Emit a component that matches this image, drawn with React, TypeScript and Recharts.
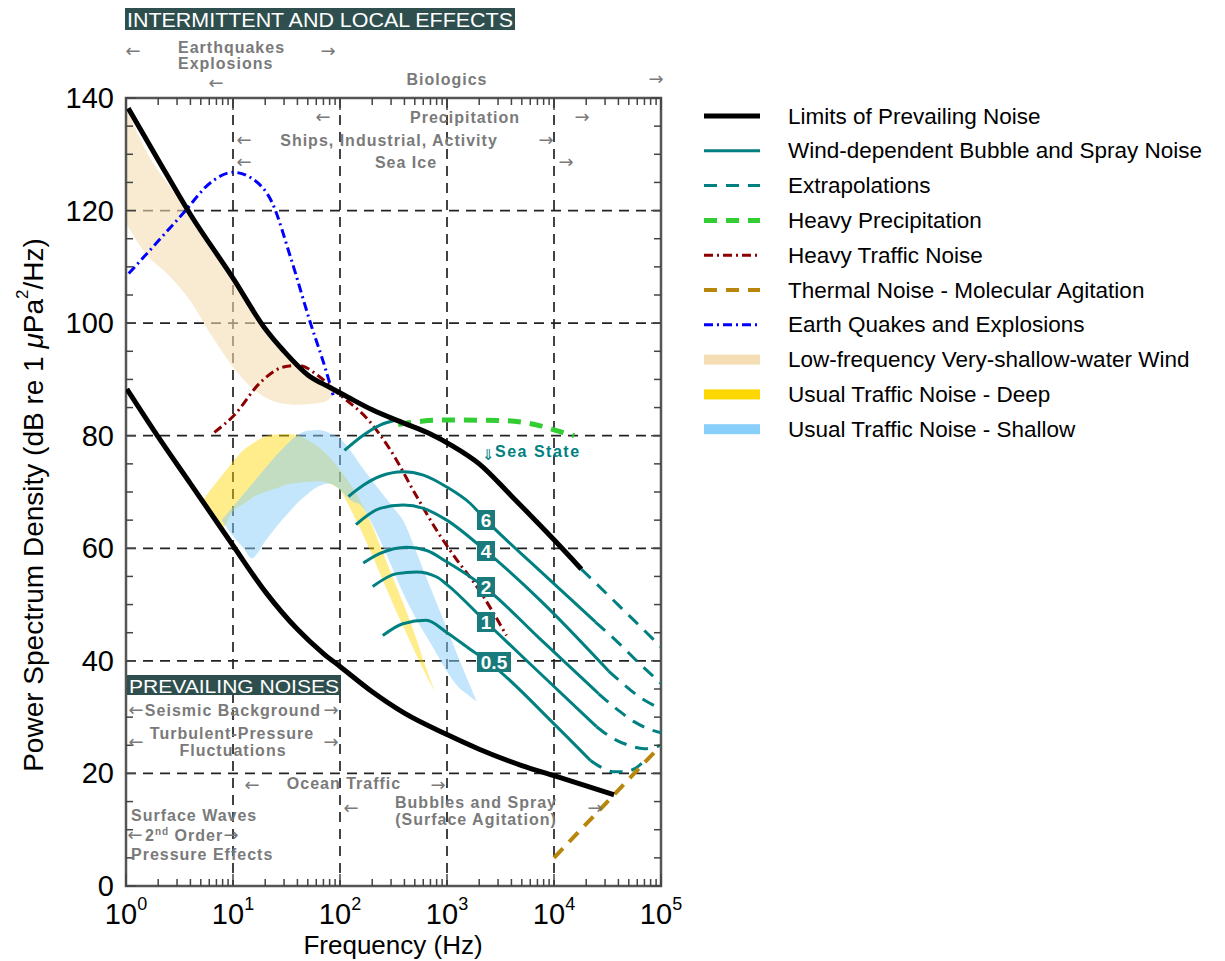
import React from 'react';
import {
  ComposedChart,
  Line,
  Area,
  XAxis,
  YAxis,
  CartesianGrid,
  ReferenceArea,
} from 'recharts';

// [frequency Hz, level dB re 1 uPa^2/Hz]
type Pt = [number, number];
// [frequency Hz, low dB, high dB]
type Band = [number, number, number];

const upperLimit: Pt[] = [
  [1.05, 138.2], [2, 129], [4, 119.3], [10, 108], [20, 99], [30, 95], [50, 90.8], [80, 88.6],
  [120, 86.8], [200, 84.6], [400, 82.2], [700, 80.3], [1100, 78.3], [2000, 75], [4000, 69.3],
  [10000, 61.5], [18000, 56.3],
];
const upperLimitExt: Pt[] = [[18000, 56.3], [40000, 49.9], [100000, 42.5]];

const lowerLimit: Pt[] = [
  [1.02, 88.3], [2, 79.8], [4, 71.5], [10, 60.5], [20, 52.3], [40, 45.6], [70, 41.3], [100, 39.0],
  [200, 34.5], [400, 30.7], [1000, 26.9], [2000, 24.3], [5000, 21.4], [10000, 19.6], [20000, 17.8],
  [36400, 16.2],
];

// wind-dependent bubble and spray noise, by sea state
const seaHigh: Pt[] = [[110, 77.4], [165, 80.1], [237, 81.9], [339, 82.8]];
const sea6: Pt[] = [
  [120, 69.2], [165, 71.2], [237, 72.8], [391, 73.6], [601, 73.0], [993, 70.9], [1641, 68.0],
  [2312, 65.0], [7400, 56.0], [24400, 46.9],
];
const sea6Ext: Pt[] = [[24400, 46.9], [40000, 43.2], [60000, 39.9], [100000, 36.0]];
const sea4: Pt[] = [
  [141, 64.2], [237, 67.1], [389, 67.7], [603, 67.1], [993, 65.0], [2312, 59.5], [7400, 50.8],
  [32400, 38.2],
];
const sea4Ext: Pt[] = [[32400, 38.2], [45000, 35.8], [65000, 33.4], [100000, 31.5]];
const sea2: Pt[] = [
  [165, 57.4], [237, 59.1], [421, 60.2], [646, 59.6], [993, 57.6], [2312, 52.9], [7400, 43.9],
  [26000, 34.2],
];
const sea2Ext: Pt[] = [[26000, 34.2], [40000, 31.2], [56000, 29.2], [79000, 27.8], [100000, 27.2]];
const sea1: Pt[] = [
  [202, 53.2], [339, 55.5], [521, 55.8], [802, 54.9], [993, 53.6], [2312, 46.9], [7400, 37.8],
  [25000, 28.3],
];
const sea1Ext: Pt[] = [[25000, 28.3], [35000, 26.3], [50000, 25.0], [70000, 24.4], [100000, 25.0]];
const sea05: Pt[] = [
  [251, 44.5], [387, 46.6], [640, 47.2], [986, 45.1], [1631, 42.1], [2512, 39.6], [10000, 28.8],
  [21900, 22.3],
];
const sea05Ext: Pt[] = [
  [21900, 22.3], [28200, 21.0], [35500, 20.3], [44700, 20.3], [56200, 20.8], [66000, 21.8],
];

const precipitation: Pt[] = [
  [350, 82.0], [600, 82.6], [1000, 82.8], [3200, 82.7], [7300, 81.8], [11000, 80.8], [15400, 80.0],
];
const heavyTraffic: Pt[] = [
  [6.7, 80.6], [10.2, 83.6], [18.1, 89.5], [29.6, 92.2], [41.1, 92.5], [62.1, 90.7], [93.5, 87.7],
  [190, 82.5], [295, 77.5], [521, 69.2], [800, 63.2], [1230, 58.0], [1900, 53.2], [3600, 44.5],
];
const thermal: Pt[] = [[10000, 5], [100000, 25]];
const quakes: Pt[] = [
  [1.06, 108.8], [1.96, 114.4], [3.49, 119.7], [6.2, 125.0], [10, 126.8], [15.3, 125.6],
  [23.1, 121.5], [34.9, 111.4], [52.6, 100.2], [73.1, 91.9], [86.3, 87.2],
];

const shallowWind: Band[] = [
  [1, 117.8, 138.5], [1.58, 112.0, 130.2], [2.51, 108.5, 124.5], [3.98, 104.0, 119.4],
  [6.31, 97.8, 113.5], [10, 92.2, 108], [15.8, 88.1, 101.8], [25.1, 86.0, 96.9],
  [39.8, 85.5, 92.8], [63.1, 85.8, 89.8], [79.4, 86.5, 88.9], [93.3, 88.0, 88.0],
];
const trafficDeep: Band[] = [
  [5.28, 68.6, 68.6], [6.31, 66.3, 70.6], [7.94, 63.6, 73.0], [10, 66.6, 75.4], [12.6, 67.9, 77.5],
  [15.8, 69.2, 78.8], [20, 70.0, 79.9], [25.1, 70.6, 80.2], [31.6, 71.3, 80.3], [39.8, 71.6, 80.1],
  [50.1, 71.8, 79.2], [63.1, 71.9, 78.0], [79.4, 71.5, 76.2], [100, 70.3, 73.9], [126, 66.9, 71.3],
  [158, 63.1, 68.1], [200, 58.7, 64.0], [251, 54.3, 59.3], [316, 49.9, 54.5], [398, 45.7, 49.8],
  [501, 41.6, 44.7], [631, 37.6, 39.0], [773, 34.5, 34.5],
];
const trafficShallow: Band[] = [
  [7.83, 65.0, 65.0], [10, 62.2, 67.4], [12.6, 60.0, 69.7], [14.9, 58.2, 71.3], [20, 61.3, 74.2],
  [25.1, 63.7, 76.4], [31.6, 65.9, 78.4], [39.8, 68.0, 80.1], [50.1, 69.7, 80.9], [63.1, 71.0, 81.0],
  [79.4, 71.5, 80.5], [100, 70.4, 79.5], [126, 68.5, 77.3], [158, 67.6, 74.6], [200, 64.3, 72.0],
  [251, 60.4, 69.6], [316, 56.0, 67.2], [398, 51.6, 64.6], [501, 47.9, 60.0], [631, 44.6, 55.1],
  [794, 41.4, 50.4], [1000, 38.1, 45.7], [1259, 35.5, 40.9], [1585, 33.9, 36.3], [1892, 32.8, 32.8],
];

const decades = [1, 10, 100, 1000, 10000, 100000];
const minorSteps = [2, 3, 4, 5, 6, 7, 8, 9];
const levelTicks = [0, 20, 40, 60, 80, 100, 120, 140];
const levelMinor = [5, 10, 15];
const seaStateLabels = ['6', '4', '2', '1', '0.5'];

const freqTicks = [
  ...decades,
  ...decades.slice(0, -1).flatMap((d) => minorSteps.map((m) => d * m)),
].sort((a, b) => a - b);
const allLevelTicks = [
  ...levelTicks,
  ...levelTicks.slice(0, -1).flatMap((t) => levelMinor.map((s) => t + s)),
].sort((a, b) => a - b);

const pts = (rows: Pt[]) => rows.map(([f, v]) => ({ f, v }));
const band = (rows: Band[]) => rows.map(([f, lo, hi]) => ({ f, range: [lo, hi] }));

const FONT = "'Liberation Sans', Arial, 'DejaVu Sans', sans-serif";
const ARROW_FONT = "'DejaVu Sans', sans-serif";
const GREY = '#7a7a7a';
const TEAL = '#008080';
const GREEN = '#32cd32';
const DARKRED = '#8b0000';
const GOLDENROD = '#b8860b';
const BLUE = '#0000ff';
const WHEAT = '#f5deb3';
const GOLD = '#ffd700';
const SKY = '#87cefa';
const DASH = '13 9';
const DASHDOT = '9 4 2 4';

const W = 1209;
const H = 953;
const PLOT = { left: 118, top: 90, width: 535, height: 788 };
const Y_AXIS_W = 60;
const X_AXIS_H = 60;

type LegendItem = { label: string; color: string; width?: number; dash?: string; band?: boolean };
const legendItems: LegendItem[] = [
  { label: 'Limits of Prevailing Noise', color: '#000', width: 5 },
  { label: 'Wind-dependent Bubble and Spray Noise', color: TEAL, width: 3 },
  { label: 'Extrapolations', color: TEAL, width: 3, dash: DASH },
  { label: 'Heavy Precipitation', color: GREEN, width: 5, dash: DASH },
  { label: 'Heavy Traffic Noise', color: DARKRED, width: 3, dash: DASHDOT },
  { label: 'Thermal Noise - Molecular Agitation', color: GOLDENROD, width: 4, dash: DASH },
  { label: 'Earth Quakes and Explosions', color: BLUE, width: 3, dash: DASHDOT },
  { label: 'Low-frequency Very-shallow-water Wind', color: WHEAT, band: true },
  { label: 'Usual Traffic Noise - Deep', color: GOLD, band: true },
  { label: 'Usual Traffic Noise - Shallow', color: SKY, band: true },
];

function FreqTick(props: any) {
  const { x, y, payload } = props;
  const v = payload.value as number;
  const major = decades.includes(v);
  const len = major ? 12 : 7;
  return (
    <g>
      <line x1={x} x2={x} y1={y} y2={y - len} stroke="#444" strokeWidth={1.5} />
      <line x1={x} x2={x} y1={y - PLOT.height} y2={y - PLOT.height + len} stroke="#444" strokeWidth={1.5} />
      {major && (
        <text x={x} y={y + 38} textAnchor="middle" fontSize={29} fontFamily={FONT} fill="#000">
          10
          <tspan dy={-14} fontSize={18}>
            {Math.round(Math.log10(v))}
          </tspan>
        </text>
      )}
    </g>
  );
}

function LevelTick(props: any) {
  const { x, y, payload } = props;
  const v = payload.value as number;
  const major = levelTicks.includes(v);
  const len = major ? 10 : 7;
  return (
    <g>
      <line x1={x} x2={x + len} y1={y} y2={y} stroke="#444" strokeWidth={1.5} />
      <line x1={x + PLOT.width - len} x2={x + PLOT.width} y1={y} y2={y} stroke="#444" strokeWidth={1.5} />
      {major && (
        <text x={x - 12} y={y} textAnchor="end" dominantBaseline="central" fontSize={29} fontFamily={FONT} fill="#000">
          {v}
        </text>
      )}
    </g>
  );
}

function Arrow({ x, y, dir }: { x: number; y: number; dir: 'l' | 'r' }) {
  return (
    <text x={x} y={y + 6} textAnchor="middle" fontSize={18} fill={GREY} fontFamily={ARROW_FONT}>
      {dir === 'l' ? '←' : '→'}
    </text>
  );
}

function Note({ x, y, children, anchor = 'middle' }: { x: number; y: number; children: React.ReactNode; anchor?: string }) {
  return (
    <text x={x} y={y} textAnchor={anchor as any} fontSize={16} fontWeight="bold" letterSpacing={1} fill={GREY} fontFamily={FONT}>
      {children}
    </text>
  );
}

export default function App() {
  const seaBoxes = [510, 541, 577, 612, 652];
  return (
    <div style={{ position: 'relative', width: W, height: H, background: '#fff', fontFamily: FONT }}>
      <ComposedChart
        width={W}
        height={H}
        margin={{
          top: PLOT.top,
          left: PLOT.left - Y_AXIS_W,
          right: W - PLOT.left - PLOT.width,
          bottom: H - PLOT.top - PLOT.height - X_AXIS_H,
        }}
      >
        <CartesianGrid
          stroke="#222"
          strokeWidth={1.7}
          strokeDasharray="10 7"
          verticalValues={[10, 100, 1000, 10000]}
          horizontalValues={[20, 40, 60, 80, 100, 120]}
        />
        <XAxis
          dataKey="f"
          type="number"
          scale="log"
          domain={[1, 100000]}
          allowDataOverflow
          ticks={freqTicks}
          interval={0}
          tick={FreqTick}
          tickLine={false}
          axisLine={false}
          tickSize={0}
          tickMargin={0}
          height={X_AXIS_H}
        />
        <YAxis
          type="number"
          domain={[0, 140]}
          allowDataOverflow
          ticks={allLevelTicks}
          interval={0}
          tick={LevelTick}
          tickLine={false}
          axisLine={false}
          tickSize={0}
          tickMargin={0}
          width={Y_AXIS_W}
        />

        <Area data={band(shallowWind)} dataKey="range" type="monotone" stroke="none" fill={WHEAT} fillOpacity={0.6} isAnimationActive={false} />
        <Area data={band(trafficDeep)} dataKey="range" type="monotone" stroke="none" fill={GOLD} fillOpacity={0.45} isAnimationActive={false} />
        <Area data={band(trafficShallow)} dataKey="range" type="monotone" stroke="none" fill={SKY} fillOpacity={0.5} isAnimationActive={false} />

        <Line data={pts(quakes)} dataKey="v" type="monotone" stroke={BLUE} strokeWidth={3} strokeDasharray={DASHDOT} dot={false} isAnimationActive={false} />
        <Line data={pts(heavyTraffic)} dataKey="v" type="monotone" stroke={DARKRED} strokeWidth={3} strokeDasharray={DASHDOT} dot={false} isAnimationActive={false} />
        <Line data={pts(precipitation)} dataKey="v" type="monotone" stroke={GREEN} strokeWidth={5} strokeDasharray={DASH} dot={false} isAnimationActive={false} />

        {[seaHigh, sea6, sea4, sea2, sea1, sea05].map((s, i) => (
          <Line key={`sea${i}`} data={pts(s)} dataKey="v" type="monotone" stroke={TEAL} strokeWidth={3} dot={false} isAnimationActive={false} />
        ))}
        {[upperLimitExt, sea6Ext, sea4Ext, sea2Ext, sea1Ext, sea05Ext].map((s, i) => (
          <Line key={`ext${i}`} data={pts(s)} dataKey="v" type="monotone" stroke={TEAL} strokeWidth={3} strokeDasharray={DASH} dot={false} isAnimationActive={false} />
        ))}
        <Line data={pts(thermal)} dataKey="v" type="linear" stroke={GOLDENROD} strokeWidth={4} strokeDasharray={DASH} dot={false} isAnimationActive={false} />

        <Line data={pts(upperLimit)} dataKey="v" type="monotone" stroke="#000" strokeWidth={5} dot={false} isAnimationActive={false} />
        <Line data={pts(lowerLimit)} dataKey="v" type="monotone" stroke="#000" strokeWidth={5} dot={false} isAnimationActive={false} />

        <ReferenceArea x1={1} x2={100000} y1={0} y2={140} fill="none" fillOpacity={0} stroke="#555" strokeWidth={2.5} />
      </ComposedChart>

      <svg width={W} height={H} style={{ position: 'absolute', left: 0, top: 0, pointerEvents: 'none' }}>
        {/* axis titles */}
        <text
          transform="translate(25 497) rotate(-90)"
          textAnchor="middle"
          dominantBaseline="central"
          fontSize={28}
          fontFamily={FONT}
          fill="#000"
        >
          Power Spectrum Density (dB re 1 <tspan fontStyle="italic">μ</tspan>Pa
          <tspan dy={-11} fontSize={17}>2</tspan>
          <tspan dy={11}>/Hz)</tspan>
        </text>
        <text x={385} y={946} textAnchor="middle" fontSize={26} fontFamily={FONT} fill="#000">
          Frequency (Hz)
        </text>

        {/* intermittent and local effects */}
        <rect x={117} y={0} width={390} height={22} fill="#2f4f4f" />
        <text x={119} y={19} fontSize={20} fill="#fff" fontFamily={FONT} textLength={386} lengthAdjust="spacingAndGlyphs">
          INTERMITTENT AND LOCAL EFFECTS
        </text>
        <Arrow x={125} y={43} dir="l" />
        <Note x={170} y={45} anchor="start">Earthquakes</Note>
        <Note x={170} y={61} anchor="start">Explosions</Note>
        <Arrow x={320} y={43} dir="r" />
        <Arrow x={208} y={75} dir="l" />
        <Note x={439} y={77}>Biologics</Note>
        <Arrow x={648} y={71} dir="r" />
        <Arrow x={315} y={109} dir="l" />
        <Note x={457} y={115}>Precipitation</Note>
        <Arrow x={574} y={109} dir="r" />
        <Arrow x={236} y={132} dir="l" />
        <Note x={381} y={138}>Ships, Industrial, Activity</Note>
        <Arrow x={538} y={132} dir="r" />
        <Arrow x={236} y={154} dir="l" />
        <Note x={398} y={160}>Sea Ice</Note>
        <Arrow x={558} y={154} dir="r" />

        {/* sea state */}
        <text x={480} y={452} textAnchor="middle" fontSize={15} fill={TEAL} fontFamily={ARROW_FONT}>⇓</text>
        <text x={487} y={449} fontSize={16} fontWeight="bold" letterSpacing={1.5} fill={TEAL} fontFamily={FONT}>
          Sea State
        </text>
        {seaStateLabels.map((s, i) => {
          const w = s.length > 1 ? 34 : 18;
          return (
            <g key={s}>
              <rect x={469} y={seaBoxes[i] - 8} width={w} height={20} fill="#197b7b" />
              <text x={469 + w / 2} y={seaBoxes[i] + 9} textAnchor="middle" fontSize={19} fontWeight="bold" fill="#fff" fontFamily={FONT}>
                {s}
              </text>
            </g>
          );
        })}

        {/* prevailing noises */}
        <rect x={119} y={667} width={214} height={20} fill="#2f4f4f" />
        <text x={121} y={685} fontSize={19} fill="#fff" fontFamily={FONT} textLength={210} lengthAdjust="spacingAndGlyphs">
          PREVAILING NOISES
        </text>
        <Arrow x={128} y={702} dir="l" />
        <Note x={225} y={708}>Seismic Background</Note>
        <Arrow x={323} y={702} dir="r" />
        <Arrow x={128} y={734} dir="l" />
        <Note x={224} y={731}>Turbulent-Pressure</Note>
        <Note x={225} y={748}>Fluctuations</Note>
        <Arrow x={323} y={734} dir="r" />
        <Arrow x={244} y={777} dir="l" />
        <Note x={336} y={781}>Ocean Traffic</Note>
        <Arrow x={430} y={777} dir="r" />
        <Arrow x={343} y={800} dir="l" />
        <Note x={468} y={800}>Bubbles and Spray</Note>
        <Note x={468} y={817}>(Surface Agitation)</Note>
        <Arrow x={587} y={800} dir="r" />
        <Note x={123} y={813} anchor="start">Surface Waves</Note>
        <Arrow x={127} y={827} dir="l" />
        <text x={137} y={833} fontSize={16} fontWeight="bold" letterSpacing={1} fill={GREY} fontFamily={FONT}>
          2<tspan dy={-6} fontSize={10}>nd</tspan>
          <tspan dy={6}> Order</tspan>
        </text>
        <Arrow x={223} y={827} dir="r" />
        <Note x={123} y={852} anchor="start">Pressure Effects</Note>

        {/* legend */}
        {legendItems.map((it, i) => {
          const cy = 108 + i * 34.8;
          return (
            <g key={it.label}>
              {it.band ? (
                <rect x={696} y={cy - 5} width={56} height={10} fill={it.color} />
              ) : (
                <line x1={696} x2={752} y1={cy} y2={cy} stroke={it.color} strokeWidth={it.width} strokeDasharray={it.dash} />
              )}
              <text x={780} y={cy} dominantBaseline="central" fontSize={22.5} fill="#000" fontFamily={FONT}>
                {it.label}
              </text>
            </g>
          );
        })}
      </svg>
    </div>
  );
}
